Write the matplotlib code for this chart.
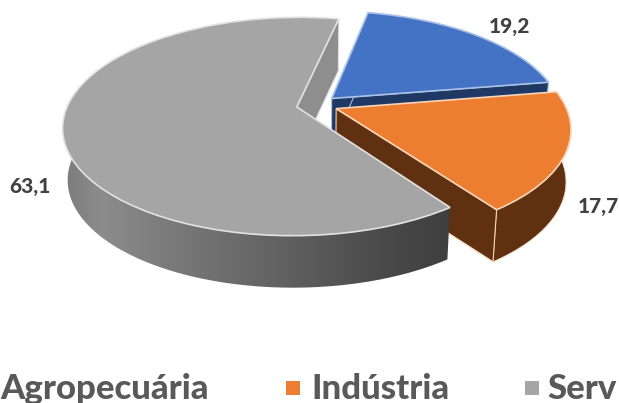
import numpy as np
import matplotlib
matplotlib.use("Agg")
import matplotlib.pyplot as plt
from matplotlib.transforms import Transform
from matplotlib.patches import Polygon
from matplotlib.colors import LinearSegmentedColormap

categories = ["Agropecuária", "Indústria", "Serv"]
values = [19.2, 17.7, 63.1]
value_labels = ["19,2", "17,7", "63,1"]

top_colors = ["#4472C4", "#ED7D31", "#A5A5A5"]
edge_colors = ["#A9C2E6", "#F9D5B8", "#E2E2E2"]
side_colors = ["#1F3864", "#5F3110", "#8E8E8E"]
W, H = 619, 403
CX, CY, A, B, P, DEPTH, SHRINK = 317.0, 105.0, 229.0, 105.0, 0.178, 52.0, 0.02


def project(u, v, z=0.0):
    u, v = np.asarray(u, float), np.asarray(v, float)
    s = 1.0 / (1.0 + P * v)
    x = CX + A * u * s * (1 - SHRINK * z)
    y = CY - B * v * s + DEPTH * z
    return np.column_stack([x, y])


class Perspective(Transform):
    input_dims = output_dims = 2
    is_separable = False
    has_inverse = False

    def transform_non_affine(self, values):
        values = np.asarray(values)
        return project(values[:, 0], values[:, 1])


plt.rcParams["font.family"] = ["Lato", "DejaVu Sans"]
fig = plt.figure(figsize=(W / 100, H / 100), dpi=100)
ax = fig.add_axes([0, 0, 1, 1])
wedges, _ = ax.pie(values, explode=[0.09, 0.09, 0.09], startangle=78.5, counterclock=False,
                   colors=top_colors, radius=1.0)
ax.set_aspect("auto")
ax.set_xlim(0, W)
ax.set_ylim(H, 0)
ax.axis("off")
persp = Perspective() + ax.transData


def arc(w, n=120):
    t = np.radians(np.linspace(w.theta1, w.theta2, n))
    return w.center[0] + w.r * np.cos(t), w.center[1] + w.r * np.sin(t)


gray_ramp = LinearSegmentedColormap.from_list(
    "side", [(0, "#7C7C7C"), (0.1, "#8C8C8C"), (0.35, "#737373"), (0.6, "#5E5E5E"),
             (0.82, "#4A4A4A"), (1, "#3E3E3E")])
visible_cuts = [(0, -1), (0,), (0,)]

for i, w in enumerate(wedges):
    z = 2 + i * 3
    w.set_transform(persp)
    w.set_facecolor(top_colors[i])
    w.set_edgecolor(edge_colors[i])
    w.set_linewidth(1.2)
    w.set_zorder(z + 2)
    cx, cy = w.center
    u, v = arc(w)
    for k in visible_cuts[i]:
        quad = np.vstack([project([cx, u[k]], [cy, v[k]], 0),
                          project([u[k], cx], [v[k], cy], 1)])
        ax.add_patch(Polygon(quad, closed=True, fc=side_colors[i], ec=edge_colors[i],
                             lw=0.8, zorder=z + 1))
    rim = np.vstack([project(u, v, 0), project(u[::-1], v[::-1], 1)])
    if i == 2:
        clip = Polygon(rim, closed=True, fc="none", ec="none", transform=ax.transData, zorder=z)
        ax.add_patch(clip)
        x0 = rim[:, 0].min()
        im = ax.imshow(np.linspace(0, 1, 256)[None, :], extent=[x0, 452, H, 0], cmap=gray_ramp,
                       aspect="auto", zorder=z)
        im.set_clip_path(clip)
    else:
        ax.add_patch(Polygon(rim, closed=True, fc=side_colors[i], ec=edge_colors[i],
                             lw=0.5, zorder=z))
ax.set_aspect("auto")
ax.set_xlim(0, W)
ax.set_ylim(H, 0)

label_pos = [(509, 26), (598, 207), (30, 187)]
for (x, y), t in zip(label_pos, value_labels):
    ax.text(x, y, t, fontsize=15, fontweight=900, color="#404040", ha="center", va="center",
            zorder=30)

legend_text_x = [0, 311, 547]
legend_mark_x = [None, 293, 532]
for i, name in enumerate(categories):
    ax.text(legend_text_x[i], 399, name, fontsize=25, fontweight=900, color="#595959",
            ha="left", va="baseline", zorder=30)
    if legend_mark_x[i] is not None:
        ax.plot([legend_mark_x[i]], [388], marker="s", ms=9.5, mew=0, color=top_colors[i], zorder=30)

fig.savefig("out.png", dpi=100)
